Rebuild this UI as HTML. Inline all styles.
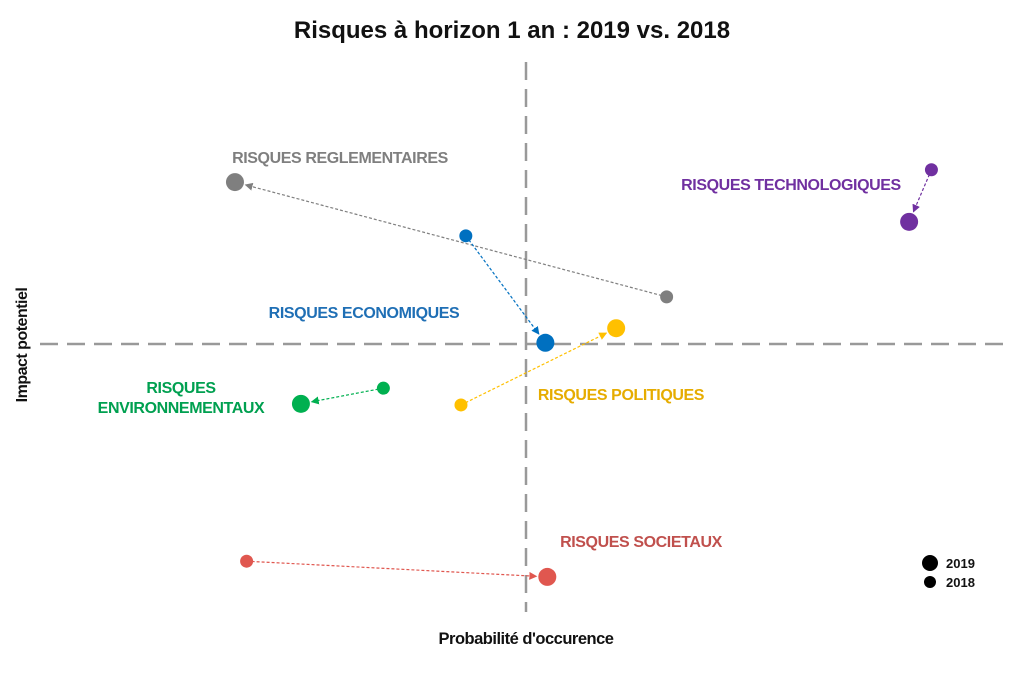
<!DOCTYPE html>
<html><head><meta charset="utf-8"><style>
body{margin:0;background:#fff;width:1024px;height:669px;overflow:hidden;font-family:"Liberation Sans",sans-serif}
svg text{font-family:"Liberation Sans",sans-serif;font-weight:bold}
</style></head><body>
<svg id="chart" width="1024" height="669" viewBox="0 0 1024 669">
<text x="512" y="38" text-anchor="middle" font-size="24" fill="#111">Risques à horizon 1 an : 2019 vs. 2018</text>
<line x1="526" y1="62" x2="526" y2="612" stroke="#999" stroke-width="2.5" stroke-dasharray="18,9"/>
<line x1="40" y1="344" x2="1012" y2="344" stroke="#999" stroke-width="2.5" stroke-dasharray="18,9"/>
<text x="526" y="644" text-anchor="middle" font-size="16.5" fill="#111" letter-spacing="-0.5">Probabilité d'occurence</text>
<text transform="translate(27,345) rotate(-90)" text-anchor="middle" font-size="16" fill="#111" letter-spacing="-0.5">Impact potentiel</text>
<g id="marks"></g>
<g>
<circle cx="930" cy="563" r="8" fill="#000"/>
<text x="946" y="568" font-size="13" fill="#111">2019</text>
<circle cx="930" cy="582" r="6" fill="#000"/>
<text x="946" y="587" font-size="13" fill="#111">2018</text>
</g>
</svg>
<script>
const categories=["reglementaires","economiques","technologiques","politiques","environnementaux","societaux"];
const x2018=[64.6,43.9,91.9,43.4,35.4,21.3];
const y2018=[57.7,68.6,80.4,38.4,41.4,10.5];
const x2019=[20.1,52.1,89.6,59.4,26.9,52.3];
const y2019=[78.2,49.5,71.1,52.1,38.6,7.7];
const colors=["#7f7f7f","#0070c0","#7030a0","#ffc000","#00b050","#e0574f"];
const labelColors=["#7f7f7f","#1f6fb5","#7030a0","#e6ac00","#00a050","#c0504d"];
const labels=[["RISQUES REGLEMENTAIRES"],["RISQUES ECONOMIQUES"],["RISQUES TECHNOLOGIQUES"],["RISQUES POLITIQUES"],["RISQUES","ENVIRONNEMENTAUX"],["RISQUES SOCIETAUX"]];
const labelPos=[[340,163],[364,318],[791,190],[621,400],[181,393],[641,547]];
function sx(v){return 40+v*9.7;}
function sy(v){return 620-v*5.6;}
const NS="http://www.w3.org/2000/svg";
const g=document.getElementById('marks');
const defs=document.createElementNS(NS,'defs');
g.appendChild(defs);
categories.forEach((c,i)=>{
  const m=document.createElementNS(NS,'marker');
  m.setAttribute('id','ar'+i);m.setAttribute('markerWidth','8');m.setAttribute('markerHeight','8');
  m.setAttribute('refX','7');m.setAttribute('refY','4');m.setAttribute('orient','auto');m.setAttribute('markerUnits','userSpaceOnUse');
  const p=document.createElementNS(NS,'path');p.setAttribute('d','M0,0 L8,4 L0,8 z');p.setAttribute('fill',colors[i]);
  m.appendChild(p);defs.appendChild(m);
  const x1=sx(x2018[i]),y1=sy(y2018[i]),x2=sx(x2019[i]),y2=sy(y2019[i]);
  const dx=x2-x1,dy=y2-y1,d=Math.hypot(dx,dy)||1;
  const ln=document.createElementNS(NS,'line');
  
  
  ln.setAttribute('x1',x1);ln.setAttribute('y1',y1);
  ln.setAttribute('x2',x2-dx/d*11);ln.setAttribute('y2',y2-dy/d*11);
  ln.setAttribute('stroke',colors[i]);ln.setAttribute('stroke-width','1.2');ln.setAttribute('stroke-dasharray','3,2');
  ln.setAttribute('marker-end','url(#ar'+i+')');
  g.appendChild(ln);
  const a=document.createElementNS(NS,'circle');
  
  
  a.setAttribute('cx',x1);a.setAttribute('cy',y1);a.setAttribute('r','6.5');a.setAttribute('fill',colors[i]);
  g.appendChild(a);
  const b=document.createElementNS(NS,'circle');
  
  
  b.setAttribute('cx',x2);b.setAttribute('cy',y2);b.setAttribute('r','9');b.setAttribute('fill',colors[i]);
  g.appendChild(b);
  labels[i].forEach((t,k)=>{
    const tx=document.createElementNS(NS,'text');
    
    
    tx.setAttribute('x',labelPos[i][0]);tx.setAttribute('y',labelPos[i][1]+k*20);
    tx.setAttribute('text-anchor','middle');tx.setAttribute('font-size','16');tx.setAttribute('fill',labelColors[i]);
    tx.setAttribute('letter-spacing','-0.4');
    tx.textContent=t;g.appendChild(tx);
  });
});
</script>
</body></html>
